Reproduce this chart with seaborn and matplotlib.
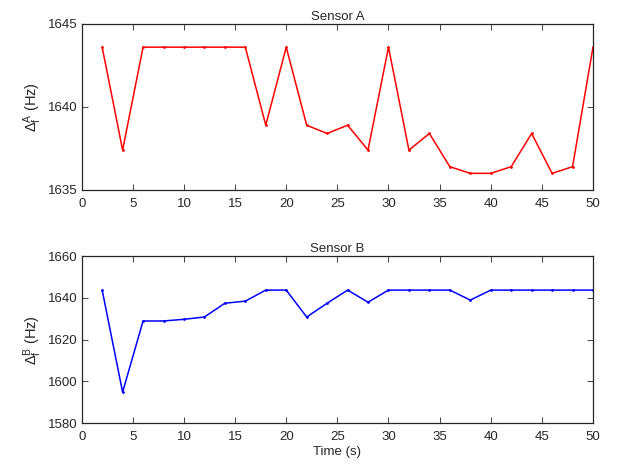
import numpy as np
import pandas as pd
import matplotlib
matplotlib.use("Agg")
import matplotlib.pyplot as plt
import seaborn as sns

sns.set_style("ticks")
plt.rcParams['font.family'] = ['Liberation Sans', 'DejaVu Sans']
plt.rcParams['mathtext.fontset'] = 'custom'
plt.rcParams['mathtext.rm'] = 'Liberation Sans'
plt.rcParams['mathtext.it'] = 'Liberation Sans:italic'
plt.rcParams['font.size'] = 9.5

# Data
time_s = [2, 4, 6, 8, 10, 12, 14, 16, 18, 20, 22, 24, 26,
          28, 30, 32, 34, 36, 38, 40, 42, 44, 46, 48, 50]
sensor_a = [1643.6, 1637.4, 1643.6, 1643.6, 1643.6, 1643.6, 1643.6, 1643.6,
            1638.9, 1643.6, 1638.9, 1638.4, 1638.9, 1637.4, 1643.6, 1637.4,
            1638.4, 1636.4, 1636.0, 1636.0, 1636.4, 1638.4, 1636.0, 1636.4,
            1643.6]
sensor_b = [1643.7, 1594.8, 1628.9, 1628.9, 1629.7, 1630.8, 1637.4, 1638.4,
            1643.7, 1643.7, 1630.8, 1637.4, 1643.7, 1637.9, 1643.7, 1643.7,
            1643.7, 1643.7, 1638.9, 1643.7, 1643.7, 1643.7, 1643.7, 1643.7,
            1643.7]

df = pd.DataFrame({'time': time_s, 'a': sensor_a, 'b': sensor_b})

fig = plt.figure(figsize=(6.19, 4.69), dpi=100)
ax1 = fig.add_axes([0.132, 0.595, 0.826, 0.354])
ax2 = fig.add_axes([0.132, 0.098, 0.826, 0.356])

sns.lineplot(data=df, x='time', y='a', ax=ax1, color='red', marker='.',
             markersize=4, linewidth=1.1, markeredgewidth=0)
sns.lineplot(data=df, x='time', y='b', ax=ax2, color='blue', marker='.',
             markersize=4, linewidth=1.1, markeredgewidth=0)

ax1.set_ylim(1635, 1645)
ax1.set_yticks([1635, 1640, 1645])
ax1.set_title("Sensor A", fontsize=9.5, pad=3)
ax1.set_ylabel(r"$\Delta_{\mathrm{f}}^{\mathrm{A}}$ (Hz)", fontsize=10.5, labelpad=3)
ax1.set_xlabel("")

ax2.set_ylim(1580, 1660)
ax2.set_yticks([1580, 1600, 1620, 1640, 1660])
ax2.set_title("Sensor B", fontsize=9.5, pad=3)
ax2.set_ylabel(r"$\Delta_{\mathrm{f}}^{\mathrm{B}}$ (Hz)", fontsize=10.5, labelpad=3)
ax2.set_xlabel("Time (s)", labelpad=2)

for ax in (ax1, ax2):
    ax.set_xlim(0, 50)
    ax.set_xticks(np.arange(0, 51, 5))
    ax.tick_params(direction='in', top=True, right=True, length=4,
                   width=0.6, pad=3)
    ax.tick_params(axis='x', pad=6)
    for s in ax.spines.values():
        s.set_linewidth(0.9)

fig.savefig("out.png", dpi=100)
